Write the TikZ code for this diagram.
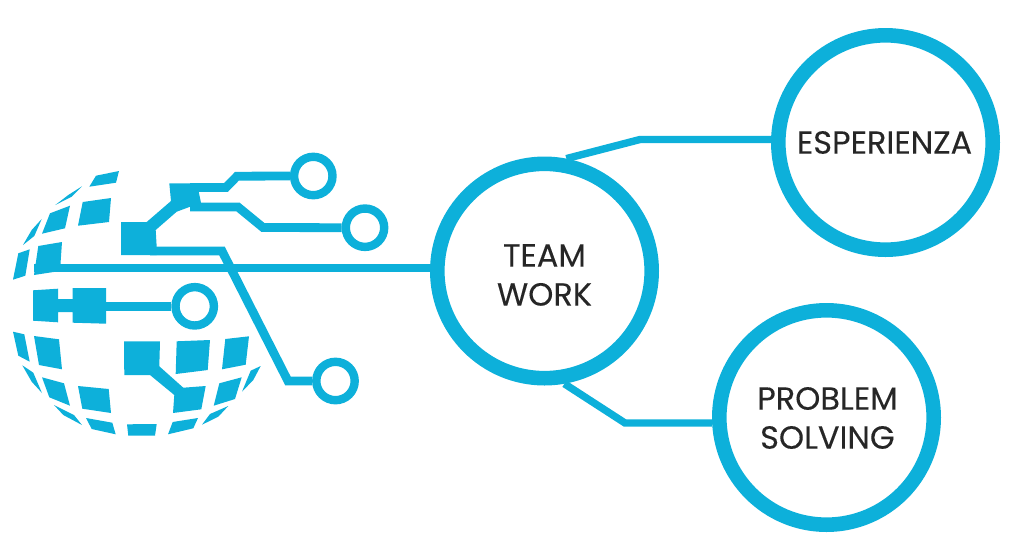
\documentclass[tikz,border=0pt]{standalone}
\usepackage{fontspec}
\setmainfont{Poppins}[FakeBold=0.15]
\definecolor{netblue}{HTML}{0DB0DA}
\definecolor{inktext}{HTML}{262626}
\tikzset{
  bigring/.style={circle,draw=netblue,line width=14.6pt,minimum size=214.4pt,inner sep=0pt},
  ringtext/.style={align=center,text=inktext,font=\fontsize{32}{39}\selectfont},
  smallring/.style={circle,draw=netblue,line width=8.4pt,minimum size=38.4pt,inner sep=0pt},
  wire/.style={netblue,line width=8.8pt,line join=miter},
  thinwire/.style={netblue,line width=7.4pt,line join=miter},
  patch/.style={fill=netblue,draw=none},
}
\begin{document}
\begin{tikzpicture}[x=1pt,y=-1pt]
  \useasboundingbox (0,0) rectangle (1013,558);
  \coordinate (mainstart) at (34,268);
  \coordinate (chipwest) at (150,251);
  \coordinate (chipnorth) at (190,187.5);
  \coordinate (chipeast) at (190,207);
  \coordinate (lowchip) at (90,306.3);
  \coordinate (elbowtop) at (640,139.5);
  \coordinate (elbowlow) at (625,423);
  % globe patches
  \foreach \p in {
    {(89.3,186.7)--(96,175.7)--(119,171)--(116,182.7)},
    {(55.3,205)--(68.3,195)--(82,186.3)--(71.7,196.7)},
    {(82.7,202)--(111,198)--(109,222)--(78,225.7)},
    {(50,213.3)--(70,205.7)--(65,228.3)--(42,233.7)},
    {(41.7,219)--(31.7,230)--(23,245)--(34.3,236)},
    {(38.3,246)--(62,242)--(60,271)--(34,275)},
    {(18.3,253.3)--(29.7,249.3)--(25.3,275.7)--(13,279.7)},
    {(13,331.7)--(24.3,334.3)--(29.7,361.7)--(18.3,355.7)},
    {(34,336)--(59,339.3)--(62,369.3)--(39,365)},
    {(176.7,341.3)--(210,340)--(207.7,370)--(175.7,374)},
    {(225.3,339)--(249,336.3)--(245.7,364.7)--(222,369.3)},
    {(22.3,365.3)--(33.3,372.7)--(42,393)--(31.7,381.7)},
    {(42,377.3)--(64,383.3)--(70,405.7)--(49.3,397.3)},
    {(78,386)--(108.7,389)--(111,413)--(82.3,408.7)},
    {(54,405)--(74,415)--(82,425)--(63.3,415)},
    {(86,418)--(112.3,422.7)--(115.7,434.3)--(91.7,429)},
    {(127,424.3)--(156.7,424)--(155,435.7)--(128.3,435.7)},
    {(172.7,422)--(198,418)--(193.3,428.3)--(168,434.3)},
    {(202,424.7)--(210,414)--(228.3,406)--(218.3,416.7)},
    {(219.3,383.3)--(241.7,377.3)--(235,399)--(213.7,405.7)},
    {(260.7,366)--(250.7,370.7)--(242,391.7)--(253.3,380)}}
    \fill[patch] \p -- cycle;
  % chips
  \fill[patch] (121,222) -- (146.7,222) -- (171,201) -- (169.3,183.3) -- (200,183.3)
    -- (198.7,191.7) -- (201,202.7) -- (176.7,211.7) -- (155.7,230) -- (156.7,247)
    -- (156.7,255) -- (121,255) -- cycle;
  \fill[patch] (124,341.3) -- (160,341.3) -- (159.3,366.3) -- (183.3,387.7) -- (205.7,386)
    -- (201.3,409.3) -- (173,413) -- (174.3,395) -- (150,375) -- (124.3,375) -- cycle;
  \fill[patch] (33,290.3) -- (58,288.7) -- (58,299) -- (72.7,299) -- (72.7,288) -- (106,288)
    -- (106,323.7) -- (72.7,322.7) -- (72.7,312) -- (58,312) -- (58,322.3) -- (33,320.7) -- cycle;
  % rings
  \node[smallring] (ringone) at (313.3,176) {};
  \node[smallring] (ringtwo) at (365,227.7) {};
  \node[smallring] (ringthree) at (194.7,306.3) {};
  \node[smallring] (ringfour) at (335.5,381) {};
  \node[bigring,label={[ringtext,yshift=-4pt]center:TEAM\\WORK}] (teamwork) at (544.5,271) {};
  \node[bigring,label={[ringtext,xshift=-1pt]center:ESPERIENZA}] (esperienza) at (885.5,142.5) {};
  \node[bigring,label={[ringtext,xshift=1pt,yshift=-.5pt]center:PROBLEM\\SOLVING}] (problem) at (826.5,417.5) {};
  % wires
  \draw[wire] (mainstart) -- (teamwork.west |- mainstart);
  \draw[wire] (chipnorth) -- (226,187.5) -- (237,176.2) -- (ringone.west);
  \draw[wire] (chipeast) -- (238,207) -- (263,227.5) -- (ringtwo.west);
  \draw[wire] (chipwest) -- (222,251) -- (288,381) -- (ringfour.west);
  \draw[wire] (lowchip) -- (ringthree.west);
  \draw[thinwire] (teamwork.79) -- (elbowtop) -- (esperienza.west |- elbowtop);
  \draw[thinwire] (teamwork.-80) -- (elbowlow) -- (problem.west |- elbowlow);
\end{tikzpicture}
\end{document}
